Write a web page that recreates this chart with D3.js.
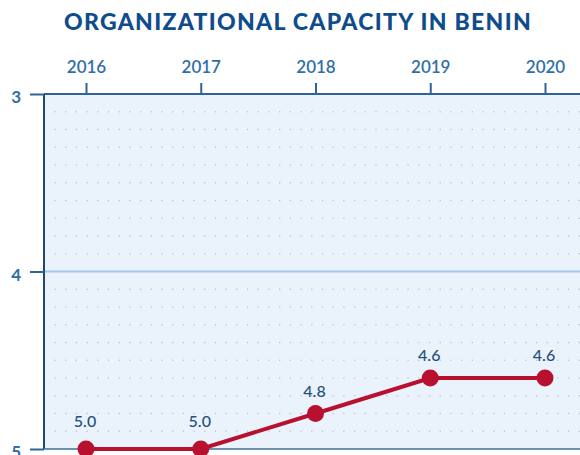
<!DOCTYPE html>
<html>
<head>
<meta charset="UTF-8">
<title>Organizational capacity in Benin</title>
<script src="https://d3js.org/d3.v7.min.js"></script>
<style>
  body { margin: 0; background: #ffffff; }
  svg { display: block; }
</style>
</head>
<body>
<div id="chart"></div>
<script>
(function (d3) {

  var years = ['2016', '2017', '2018', '2019', '2020'];
  var scores = [5.0, 5.0, 4.8, 4.6, 4.6];
  var yTicks = [3, 4, 5];

  var width = 580, height = 455;
  var left = 44, top = 94;

  var svg = d3.select('#chart').append('svg')
      .attr('width', width)
      .attr('height', height);

  // years are evenly spaced, 2016 sits ~42px inside the plot
  var x = d3.scalePoint()
      .domain(years)
      .range([86, 545]);

  // inverted scale: 3 on top, 5 at the bottom
  var y = d3.scaleLinear()
      .domain([3, 5])
      .range([top, 449]);

  // plot background
  svg.append('rect')
      .attr('x', left)
      .attr('y', top)
      .attr('width', width - left + 10)
      .attr('height', y(5) - top)
      .attr('fill', '#eaf2fb');

  // dotted grid
  var rows = d3.range(3.1, 5.0, 0.1);
  var cols = d3.range(left + 11, width + 10, 10.7);
  var grid = svg.append('g');
  rows.forEach(function (r) {
    if (Math.abs(r - 4) < 0.01) return;
    grid.selectAll(null)
        .data(cols)
        .enter().append('circle')
        .attr('cx', function (c) { return c; })
        .attr('cy', y(r))
        .attr('r', 0.75)
        .attr('fill', '#b3c2d3');
  });

  // solid reference line at 4
  svg.append('line')
      .attr('x1', left).attr('x2', width)
      .attr('y1', y(4)).attr('y2', y(4))
      .attr('stroke', '#a6c8e8')
      .attr('stroke-width', 2);

  // top axis with years
  var xAxis = svg.append('g')
      .attr('transform', 'translate(0,' + top + ')')
      .call(d3.axisTop(x).tickSize(11).tickPadding(10));
  xAxis.select('.domain')
      .attr('d', 'M' + left + ',0H' + width)
      .attr('stroke', '#2f6595')
      .attr('stroke-width', 2);
  xAxis.selectAll('.tick line')
      .attr('stroke', '#2f6595')
      .attr('stroke-width', 2);
  xAxis.selectAll('.tick text')
      .attr('fill', '#2f6fa8')
      .style('font-family', 'Lato, sans-serif')
      .style('font-size', '17px')
      .style('font-weight', '600');

  // left axis
  var yAxis = svg.append('g')
      .attr('transform', 'translate(' + left + ',0)')
      .call(d3.axisLeft(y).tickValues(yTicks).tickFormat(d3.format('d')).tickSize(14).tickPadding(9));
  yAxis.select('.domain')
      .attr('d', 'M0,' + top + 'V' + y(5))
      .attr('stroke', '#23486e')
      .attr('stroke-width', 2);
  yAxis.selectAll('.tick line')
      .attr('stroke', '#2f6595')
      .attr('stroke-width', 2);
  yAxis.selectAll('.tick text')
      .attr('fill', '#2f6fa8')
      .attr('dy', '0.5em')
      .style('font-family', 'Lato, sans-serif')
      .style('font-size', '17px')
      .style('font-weight', 'bold');

  // bottom edge of plot
  svg.append('line')
      .attr('x1', left).attr('x2', width)
      .attr('y1', y(5)).attr('y2', y(5))
      .attr('stroke', '#3d6e99')
      .attr('stroke-width', 1.5);

  var data = years.map(function (yr, i) { return { year: yr, value: scores[i] }; });

  var line = d3.line()
      .x(function (d) { return x(d.year); })
      .y(function (d) { return y(d.value); });

  svg.append('path')
      .datum(data)
      .attr('d', line)
      .attr('fill', 'none')
      .attr('stroke', '#b8102f')
      .attr('stroke-width', 4);

  svg.selectAll('.pt')
      .data(data)
      .enter().append('circle')
      .attr('class', 'pt')
      .attr('cx', function (d) { return x(d.year); })
      .attr('cy', function (d) { return y(d.value); })
      .attr('r', 8.5)
      .attr('fill', '#b8102f');

  svg.selectAll('.lbl')
      .data(data)
      .enter().append('text')
      .attr('class', 'lbl')
      .attr('x', function (d) { return x(d.year) - 1; })
      .attr('y', function (d) { return y(d.value) - (d.value === 5 ? 22 : 17); })
      .attr('text-anchor', 'middle')
      .attr('fill', '#24507c')
      .style('font-family', 'Lato, sans-serif')
      .style('font-size', '16px')
      .style('font-weight', '500')
      .text(function (d) { return d.value.toFixed(1); });

  // title
  svg.append('text')
      .attr('x', 298)
      .attr('y', 30)
      .attr('text-anchor', 'middle')
      .attr('fill', '#0f4c8c')
      .style('font-family', 'Lato, sans-serif')
      .style('font-weight', '900')
      .style('font-size', '23px')
      .style('letter-spacing', '1.3px')
      .text('ORGANIZATIONAL CAPACITY IN BENIN');

})(window.d3);
</script>
</body>
</html>
